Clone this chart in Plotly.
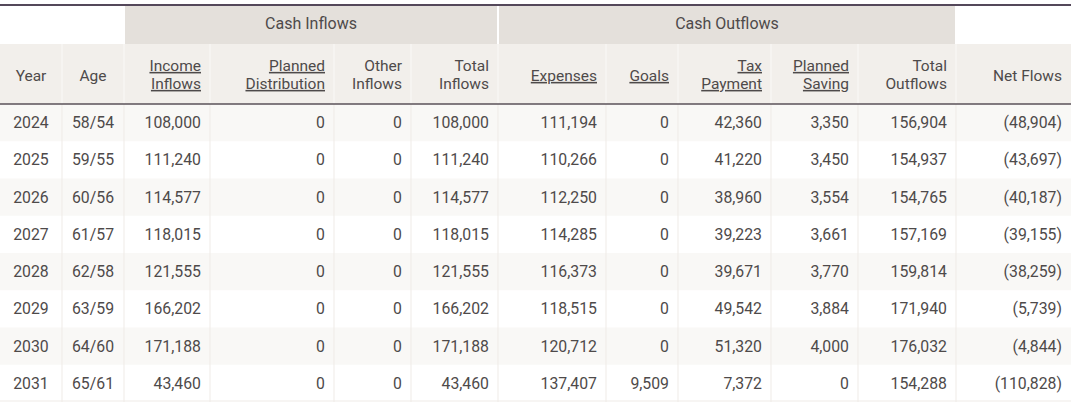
import plotly.graph_objects as go

years = [2024, 2025, 2026, 2027, 2028, 2029, 2030, 2031]
ages = ['58/54', '59/55', '60/56', '61/57', '62/58', '63/59', '64/60', '65/61']
income_inflows = [108000, 111240, 114577, 118015, 121555, 166202, 171188, 43460]
planned_distribution = [0, 0, 0, 0, 0, 0, 0, 0]
other_inflows = [0, 0, 0, 0, 0, 0, 0, 0]
total_inflows = [108000, 111240, 114577, 118015, 121555, 166202, 171188, 43460]
expenses = [111194, 110266, 112250, 114285, 116373, 118515, 120712, 137407]
goals = [0, 0, 0, 0, 0, 0, 0, 9509]
tax_payment = [42360, 41220, 38960, 39223, 39671, 49542, 51320, 7372]
planned_saving = [3350, 3450, 3554, 3661, 3770, 3884, 4000, 0]
total_outflows = [156904, 154937, 154765, 157169, 159814, 171940, 176032, 154288]
net_flows = [-48904, -43697, -40187, -39155, -38259, -5739, -4844, -110828]

headers = ['Year', 'Age', '<u>Income</u><br><u>Inflows</u>',
           '<u>Planned</u><br><u>Distribution</u>', 'Other<br>Inflows',
           'Total<br>Inflows', '<u>Expenses</u>', '<u>Goals</u>',
           '<u>Tax</u><br><u>Payment</u>', '<u>Planned</u><br><u>Saving</u>',
           'Total<br>Outflows', 'Net Flows']
groups = ['Cash Inflows', 'Cash Outflows']
group_spans = [(2, 6), (6, 11)]   # column index ranges covered by each group

columns = [years, ages, income_inflows, planned_distribution, other_inflows,
           total_inflows, expenses, goals, tax_payment, planned_saving,
           total_outflows, net_flows]

# layout (pixels)
W, H = 1071, 402
col_widths = [62, 62, 86, 124, 77, 87, 108, 72, 93, 87, 98, 115]
edges = [0]
for w in col_widths:
    edges.append(edges[-1] + w)
top_line = 5
group_top, group_bot = 6, 44
head_bot = 104
row_h = (H - head_bot) / len(years)
pad = 9

font = 'Roboto'
text_col = '#4e4a4a'


def fmt(j, v):
    if j < 2:
        return str(v)          # year / age as is
    if j == len(columns) - 1 and v < 0:
        return '({:,})'.format(-v)
    return '{:,}'.format(v)


shapes = []
# header band
shapes.append(dict(type='rect', x0=0, x1=W, y0=group_bot, y1=head_bot,
                   fillcolor='#f2efeb', line_width=0, layer='below'))
# group bands
for a, b in group_spans:
    shapes.append(dict(type='rect', x0=edges[a] + 1, x1=edges[b] - 1,
                       y0=group_top, y1=group_bot,
                       fillcolor='#e4e0db', line_width=0, layer='below'))
# striped rows
for i in range(len(years)):
    if i % 2 == 0:
        shapes.append(dict(type='rect', x0=0, x1=W,
                           y0=head_bot + i * row_h, y1=head_bot + (i + 1) * row_h,
                           fillcolor='#f9f8f6', line_width=0, layer='below'))
# column separators
for e in edges[1:-1]:
    shapes.append(dict(type='line', x0=e, x1=e, y0=group_bot, y1=head_bot,
                       line=dict(color='#faf9f7', width=1), layer='below'))
    shapes.append(dict(type='line', x0=e, x1=e, y0=head_bot, y1=H,
                       line=dict(color='#efebe7', width=1), layer='below'))
# rules
shapes.append(dict(type='line', x0=0, x1=W, y0=top_line, y1=top_line,
                   line=dict(color='#54485a', width=2)))
shapes.append(dict(type='line', x0=0, x1=W, y0=head_bot, y1=head_bot,
                   line=dict(color='#5a5258', width=1.5)))
shapes.append(dict(type='line', x0=0, x1=W, y0=H - 1, y1=H - 1,
                   line=dict(color='#efebe7', width=1)))

fig = go.Figure()


def add_text(xs, ys, texts, pos, size):
    fig.add_trace(go.Scatter(
        x=xs, y=ys, text=texts, mode='text', textposition=pos,
        textfont=dict(family=font, size=size, color=text_col),
        hoverinfo='skip', showlegend=False,
    ))


# group titles
add_text([(edges[a] + edges[b]) / 2 for a, b in group_spans],
         [25] * len(groups), groups, 'middle center', 16)

# column titles and cells
for j, col in enumerate(columns):
    centred = j < 2
    x = (edges[j] + edges[j + 1]) / 2 if centred else edges[j + 1] - pad
    pos = 'middle center' if centred else 'middle left'
    lines = headers[j].split('<br>')
    ys = [77] if len(lines) == 1 else [67, 85]
    add_text([x] * len(lines), ys, lines, pos, 15.5)
    add_text([x] * len(col),
             [head_bot + (i + 0.5) * row_h + 1.5 for i in range(len(col))],
             [fmt(j, v) for v in col], pos, 15.8)

fig.update_layout(
    width=W, height=H,
    margin=dict(l=0, r=0, t=0, b=0),
    paper_bgcolor='#ffffff', plot_bgcolor='#ffffff',
    xaxis=dict(range=[0, W], visible=False, fixedrange=True),
    yaxis=dict(range=[H, 0], visible=False, fixedrange=True),
    shapes=shapes,
)

fig.write_html('out.html', config={'displayModeBar': False},
               post_script="document.body.style.margin='0';")
